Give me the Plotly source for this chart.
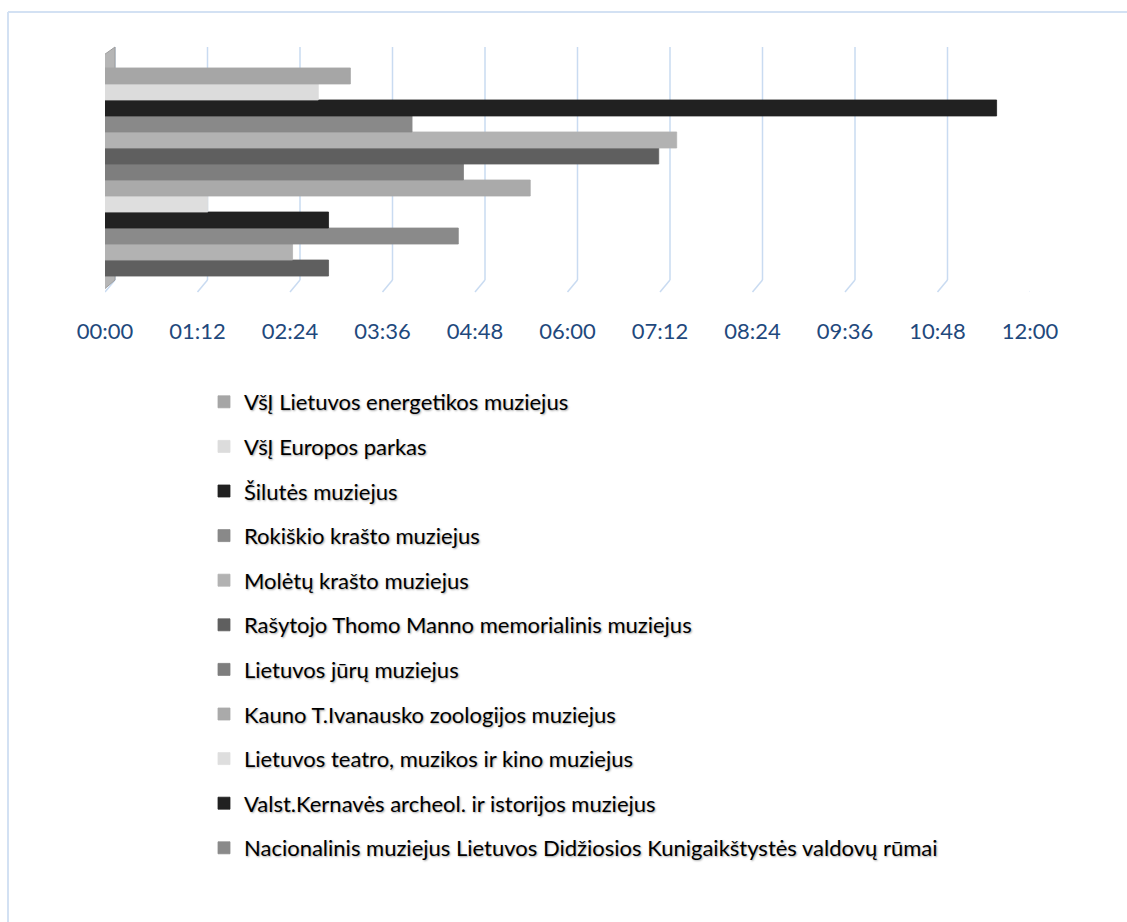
import plotly.graph_objects as go

# ---- data (durations hh:mm) ----
museums = [
    "VšĮ Lietuvos energetikos muziejus",
    "VšĮ Europos parkas",
    "Šilutės muziejus",
    "Rokiškio krašto muziejus",
    "Molėtų krašto muziejus",
    "Rašytojo Thomo Manno memorialinis muziejus",
    "Lietuvos jūrų muziejus",
    "Kauno T.Ivanausko zoologijos muziejus",
    "Lietuvos teatro, muzikos ir kino muziejus",
    "Valst.Kernavės archeol. ir istorijos muziejus",
    "Nacionalinis muziejus Lietuvos Didžiosios Kunigaikštystės valdovų rūmai",
    "",   # series not shown in legend (legend truncated in original)
    "",
]
durations = ["03:11", "02:46", "11:34", "03:59", "07:25", "07:11", "04:39",
             "05:31", "01:20", "02:54", "04:35", "02:26", "02:54"]
colors = ["#a6a6a6", "#dcdcdc", "#212121", "#898989", "#b2b2b2", "#5f5f5f",
          "#7e7e7e", "#aaaaaa", "#dedede", "#212121", "#8a8a8a", "#b2b2b2",
          "#5f5f5f"]
tick_labels = ["00:00", "01:12", "02:24", "03:36", "04:48", "06:00",
               "07:12", "08:24", "09:36", "10:48", "12:00"]


def to_minutes(s):
    h, m = s.split(":")
    return int(h) * 60 + int(m)


values = [to_minutes(d) for d in durations]
tick_vals = [to_minutes(t) for t in tick_labels]

W, H = 1127, 922
ML, MR, MT, MB = 105, 97, 52, 630
PW, PH = W - ML - MR, H - MT - MB

fig = go.Figure()
# add in reverse so the first series is drawn at the top of the group
for i in reversed(range(len(values))):
    fig.add_trace(go.Bar(
        y=["all"], x=[values[i]], orientation="h",
        name=museums[i],
        marker=dict(color=colors[i], line=dict(width=0.8, color=colors[i])),
        showlegend=bool(museums[i]), legendgroup=f"g{i}",
        legendrank=(i + 1) * 10,
    ))

grid_col = "#c9dbf1"
shapes = []
# 3D-like back-wall gridlines
for t in tick_vals:
    shapes.append(dict(type="line", xref="x", xsizemode="pixel", xanchor=t,
                       x0=10, x1=10, yref="paper", y0=12 / PH, y1=1 + 5 / PH,
                       line=dict(color=grid_col, width=1.5), layer="below"))
    shapes.append(dict(type="line", xref="x", xsizemode="pixel", xanchor=t,
                       x0=10, x1=0, yref="paper", y0=12 / PH, y1=0,
                       line=dict(color=grid_col, width=1.5), layer="below"))
# left side wall
shapes.append(dict(type="path", xref="x", xsizemode="pixel", xanchor=0,
                   yref="paper", ysizemode="pixel", yanchor=0,
                   path="M -4,0 L -4,235 L 10,245 L 10,12 Z",
                   fillcolor="#b5b5b5", line=dict(color="#9c9c9c", width=1),
                   layer="below"))
# chart border (top and left)
shapes.append(dict(type="line", xref="paper", yref="paper",
                   x0=(8 - ML) / PW, x1=(W - ML) / PW,
                   y0=(H - MB - 12) / PH, y1=(H - MB - 12) / PH,
                   line=dict(color="#d3e1f3", width=2)))
shapes.append(dict(type="line", xref="paper", yref="paper",
                   x0=(8 - ML) / PW, x1=(8 - ML) / PW,
                   y0=(H - MB - 12) / PH, y1=(H - MB - H) / PH,
                   line=dict(color="#d3e1f3", width=2)))

fig.update_layout(
    width=W, height=H,
    margin=dict(l=ML, r=MR, t=MT, b=MB, pad=0),
    paper_bgcolor="white", plot_bgcolor="white",
    barmode="group", bargap=0.133, bargroupgap=0,
    shapes=shapes,
    xaxis=dict(range=[0, 720], tickvals=tick_vals, ticktext=tick_labels,
               showgrid=False, zeroline=False, showline=False,
               ticks="outside", ticklen=20, tickcolor="rgba(0,0,0,0)",
               tickfont=dict(family="Lato", size=22, color="#1f497d")),
    yaxis=dict(range=[-0.5, 0.5], showticklabels=False, showgrid=False,
               zeroline=False, showline=False),
    legend=dict(traceorder="grouped", orientation="v",
                x=(204 - ML) / PW, xanchor="left",
                y=(H - MB - 381) / PH, yanchor="top",
                tracegroupgap=13, itemwidth=30, maxheight=700,
                font=dict(family="Lato", size=22, color="#000000",
                          shadow="1px 1px 2px rgba(0,0,0,0.35)"),
                bgcolor="rgba(0,0,0,0)"),
    showlegend=True,
)

fig.write_html("out.html", config={"displayModeBar": False},
               post_script="document.body.style.margin='0';")
